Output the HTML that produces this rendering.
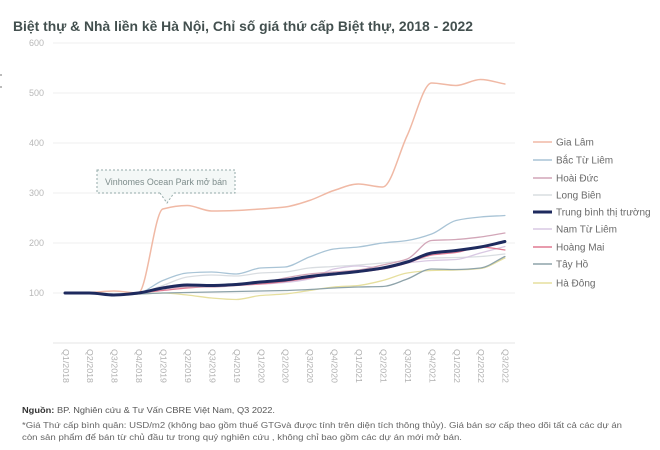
<!DOCTYPE html>
<html><head><meta charset="utf-8"><style>
html,body{margin:0;padding:0;background:#fff;}
svg{display:block;}
text{font-family:"Liberation Sans","Noto Sans CJK SC",sans-serif;}
</style></head><body>
<svg id="c" width="660" height="450" viewBox="0 0 660 450" xmlns="http://www.w3.org/2000/svg">
<rect width="660" height="450" fill="#fff"/>
<text x="13" y="31" font-size="14" font-weight="bold" fill="#43504f" textLength="460" lengthAdjust="spacingAndGlyphs">Biệt thự &amp; Nhà liền kề Hà Nội, Chỉ số giá thứ cấp Biệt thự, 2018 - 2022</text>
<g stroke="#efefef" stroke-width="1">
<line x1="53" y1="43" x2="515" y2="43"/>
<line x1="53" y1="93" x2="515" y2="93"/>
<line x1="53" y1="143" x2="515" y2="143"/>
<line x1="53" y1="193" x2="515" y2="193"/>
<line x1="53" y1="243" x2="515" y2="243"/>
<line x1="53" y1="293" x2="515" y2="293"/>
<line x1="53" y1="343" x2="515" y2="343" stroke="#e6e6e6"/>
</g>
<g font-size="9" fill="#b8b8b8" text-anchor="end">
<text x="44" y="46">600</text>
<text x="44" y="96">500</text>
<text x="44" y="146">400</text>
<text x="44" y="196">300</text>
<text x="44" y="246">200</text>
<text x="44" y="296">100</text>
</g>
<g id="xl" font-size="8.5" fill="#b0b0b0"></g>
<g id="lines" fill="none" stroke-linejoin="round" stroke-linecap="round"></g>
<!-- annotation -->
<rect x="97" y="170" width="138" height="23" fill="#f4f8f7" stroke="#93aaa8" stroke-width="1" stroke-dasharray="2,2"/>
<path d="M160 193 L167 203 L174 193" fill="#f4f8f7" stroke="#93aaa8" stroke-width="1" stroke-dasharray="2,2"/>
<line x1="161" y1="193" x2="173" y2="193" stroke="#f4f8f7" stroke-width="1.5"/>
<text x="105" y="185" font-size="9.5" fill="#7d8c8b" textLength="122" lengthAdjust="spacingAndGlyphs">Vinhomes Ocean Park mở bán</text>
<!-- legend -->
<g id="lg" font-size="10" fill="#6a6a6a"></g>
<!-- footnotes -->
<text x="22" y="413" font-size="8.5" fill="#555" textLength="253" lengthAdjust="spacingAndGlyphs"><tspan font-weight="bold" fill="#333">Nguồn:</tspan> BP. Nghiên cứu &amp; Tư Vấn CBRE Việt Nam, Q3 2022.</text>
<text x="22" y="428" font-size="8.5" fill="#666" textLength="600" lengthAdjust="spacingAndGlyphs">*Giá Thứ cấp bình quân: USD/m2 (không bao gồm thuế GTGvà được tính trên diện tích thông thủy). Giá bán sơ cấp theo dõi tất cả các dự án</text>
<text x="22" y="440" font-size="8.5" fill="#666" textLength="440" lengthAdjust="spacingAndGlyphs">còn sản phẩm để bán từ chủ đầu tư trong quý nghiên cứu , không chỉ bao gồm các dự án mới mở bán.</text>
<rect x="0" y="74" width="2" height="2" fill="#bbb"/>
<rect x="0" y="86" width="2" height="2" fill="#bbb"/>
</svg>
<script>
(function(){
var NS="http://www.w3.org/2000/svg";
function X(i){return 65+i*24.44;}
function Y(v){return 343-v*0.5;}
var labels=["Q1/2018","Q2/2018","Q3/2018","Q4/2018","Q1/2019","Q2/2019","Q3/2019","Q4/2019","Q1/2020","Q2/2020","Q3/2020","Q4/2020","Q1/2021","Q2/2021","Q3/2021","Q4/2021","Q1/2022","Q2/2022","Q3/2022"];
var xl=document.getElementById("xl");
labels.forEach(function(l,i){
  var t=document.createElementNS(NS,"text");
  var x=X(i);
  t.setAttribute("transform","translate("+x+",349) rotate(90)");
  t.setAttribute("dominant-baseline","middle");
  t.setAttribute("textLength","34");
  t.setAttribute("lengthAdjust","spacingAndGlyphs");
  t.textContent=l;
  xl.appendChild(t);
});
var S=[
 {n:"Long Biên",c:"#d9dde1",w:1.3,d:[100,100,98,100,115,132,136,134,140,142,150,153,156,160,165,170,171,173,178]},
 {n:"Nam Từ Liêm",c:"#d9c9e3",w:1.3,d:[100,100,97,100,112,118,116,118,118,121,128,148,154,150,160,165,167,180,193]},
 {n:"Hà Đông",c:"#e6df9e",w:1.3,d:[100,99,96,98,100,96,90,87,95,98,105,112,115,125,140,145,146,149,170]},
 {n:"Tây Hồ",c:"#8ea3aa",w:1.3,d:[100,100,96,98,100,101,102,103,104,105,107,110,112,113,128,148,147,150,173]},
 {n:"Hoàng Mai",c:"#e07a92",w:1.3,d:[100,100,96,100,105,110,113,115,118,123,130,139,142,148,160,176,181,192,186]},
 {n:"Hoài Đức",c:"#d2a6b8",w:1.3,d:[100,100,97,100,108,112,112,115,120,130,138,142,146,156,168,205,207,212,220]},
 {n:"Bắc Từ Liêm",c:"#a9c4d6",w:1.3,d:[100,100,97,100,125,140,142,138,150,152,172,188,192,200,205,218,245,252,255]},
 {n:"Gia Lâm",c:"#f0b9a5",w:1.5,d:[100,101,104,100,268,275,264,265,268,272,285,305,318,312,415,520,515,527,518]},
 {n:"Trung bình thị trường",c:"#1e2a5e",w:3,d:[100,100,96,100,110,116,115,117,122,126,133,138,143,150,162,180,185,192,203]}
];
// monotone cubic interpolation (Fritsch-Carlson)
function path(d){
  var n=d.length,x=[],y=[],i;
  for(i=0;i<n;i++){x.push(X(i));y.push(Y(d[i]));}
  var dx=[],m=[],t=[];
  for(i=0;i<n-1;i++){dx.push(x[i+1]-x[i]);m.push((y[i+1]-y[i])/dx[i]);}
  t[0]=m[0];t[n-1]=m[n-2];
  for(i=1;i<n-1;i++){
    if(m[i-1]*m[i]<=0)t[i]=0;
    else{
      var w1=2*dx[i]+dx[i-1],w2=dx[i]+2*dx[i-1];
      t[i]=(w1+w2)/(w1/m[i-1]+w2/m[i]);
    }
  }
  var s="M"+x[0].toFixed(1)+" "+y[0].toFixed(1);
  for(i=0;i<n-1;i++){
    var h=dx[i]/3;
    s+=" C"+(x[i]+h).toFixed(1)+" "+(y[i]+t[i]*h).toFixed(1)+" "+(x[i+1]-h).toFixed(1)+" "+(y[i+1]-t[i+1]*h).toFixed(1)+" "+x[i+1].toFixed(1)+" "+y[i+1].toFixed(1);
  }
  return s;
}
var g=document.getElementById("lines");
S.forEach(function(s){
  var e=document.createElementNS(NS,"path");
  e.setAttribute("d",path(s.d));
  e.setAttribute("stroke",s.c);
  e.setAttribute("stroke-width",s.w);
  g.appendChild(e);
});
var order=["Gia Lâm","Bắc Từ Liêm","Hoài Đức","Long Biên","Trung bình thị trường","Nam Từ Liêm","Hoàng Mai","Tây Hồ","Hà Đông"];
var ly=[142,160,178,195,212,229,247,264,283];
var lg=document.getElementById("lg");
order.forEach(function(n,i){
  var s=S.filter(function(q){return q.n===n;})[0];
  var l=document.createElementNS(NS,"line");
  l.setAttribute("x1",533);l.setAttribute("x2",552);
  l.setAttribute("y1",ly[i]);l.setAttribute("y2",ly[i]);
  l.setAttribute("stroke",s.c);l.setAttribute("stroke-width",s.w===3?3:1.5);
  lg.appendChild(l);
  var t=document.createElementNS(NS,"text");
  t.setAttribute("x",556);t.setAttribute("y",ly[i]+3.5);
  t.textContent=n;
  lg.appendChild(t);
});
})();
</script>
</body></html>
